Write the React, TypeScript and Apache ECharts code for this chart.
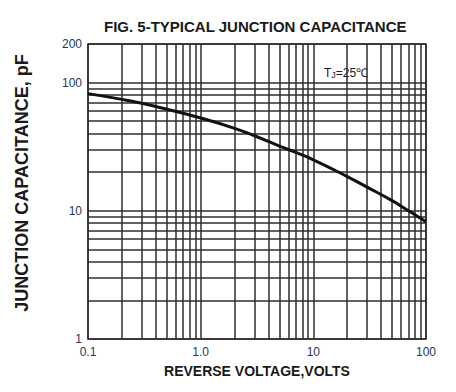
import React, { useEffect, useRef } from "react";
import * as echarts from "echarts";

// Curve: reverse voltage (V) vs junction capacitance (pF)
const voltage = [0.1, 0.2, 0.3, 0.5, 1, 2, 3, 5, 7, 10, 20, 30, 50, 70, 100];
const capacitance = [82, 74, 69, 62, 53, 44, 38.5, 32, 28.5, 25, 18.5, 15.3, 12, 10, 8.2];

// Minor grid values (log paper)
const xGrid = [0.2, 0.3, 0.4, 0.5, 0.6, 0.7, 0.8, 0.9, 2, 3, 4, 5, 6, 7, 8, 9, 20, 30, 40, 50, 60, 70, 80, 90];
const yGrid = [2, 3, 4, 5, 6, 7, 8, 9, 20, 30, 40, 50, 60, 70, 80, 90];

// Tick labels
const xTickValues = [0.1, 1, 10, 100];
const xTickLabels = ["0.1", "1.0", "10", "100"];
const yTickValues = [1, 10, 100, 200];
const yTickLabels = ["1", "10", "100", "200"];

const FONT = "Liberation Sans, Arial, Helvetica, sans-serif";
const GRID_COLOR = "#2e2e2e";
const LABEL_COLOR = "#26365e";

function lookup(values: number[], labels: string[], v: number): string {
  for (let i = 0; i < values.length; i++) {
    if (Math.abs(Math.log10(v) - Math.log10(values[i])) < 1e-6) return labels[i];
  }
  return "";
}

export default function App() {
  const ref = useRef<HTMLDivElement>(null);
  useEffect(() => {
    document.body.style.margin = "0";
    const chart = echarts.init(ref.current!, null, { renderer: "svg" });
    chart.setOption({
      animation: false,
      backgroundColor: "#ffffff",
      title: {
        text: "FIG. 5-TYPICAL JUNCTION CAPACITANCE",
        left: 104,
        top: 19,
        padding: 0,
        textStyle: { fontFamily: FONT, fontWeight: "bold", fontSize: 15, color: "#1a1a1a" },
      },
      grid: {
        left: 88,
        right: 30,
        top: 44,
        bottom: 53,
        show: true,
        borderColor: GRID_COLOR,
        borderWidth: 1.5,
        backgroundColor: "transparent",
      },
      xAxis: {
        type: "log",
        logBase: 10,
        min: 0.1,
        max: 100,
        name: "REVERSE VOLTAGE,VOLTS",
        nameLocation: "middle",
        nameGap: 25,
        nameTextStyle: { fontFamily: FONT, fontWeight: "bold", fontSize: 14, color: "#1a1a1a" },
        axisLine: { show: false },
        axisTick: { show: false },
        axisLabel: {
          fontFamily: FONT,
          fontSize: 12,
          color: LABEL_COLOR,
          margin: 7,
          formatter: (v: number) => lookup(xTickValues, xTickLabels, v),
        },
        splitLine: { show: true, lineStyle: { color: GRID_COLOR, width: 1.5 } },
      },
      yAxis: {
        type: "log",
        logBase: 10,
        min: 1,
        max: 200,
        axisLine: { show: false },
        axisTick: { show: false },
        axisLabel: {
          fontFamily: FONT,
          fontSize: 12,
          color: LABEL_COLOR,
          margin: 6,
          showMaxLabel: true,
          formatter: (v: number) => lookup(yTickValues, yTickLabels, v),
        },
        splitLine: { show: true, lineStyle: { color: GRID_COLOR, width: 1.5 } },
      },
      series: [
        {
          type: "line",
          data: voltage.map((v, i) => [v, capacitance[i]]),
          smooth: 0.5,
          showSymbol: false,
          lineStyle: { color: "#111111", width: 3 },
          z: 5,
          markLine: {
            silent: true,
            symbol: ["none", "none"],
            label: { show: false },
            lineStyle: { color: GRID_COLOR, width: 1.5, type: "solid" },
            emphasis: { disabled: true },
            data: [
              ...xGrid.map((v) => ({ xAxis: v })),
              ...yGrid.map((v) => ({ yAxis: v })),
            ],
          },
        },
      ],
      graphic: [
        {
          type: "group",
          z: 100,
          children: [
            {
              type: "rect",
              shape: { x: 307, y: 60, width: 76, height: 23 },
              style: { fill: "#ffffff" },
            },
            {
              type: "text",
              x: 346,
              y: 73,
              style: {
                text: "{a|T}{b|J}{a|=25℃}",
                align: "center",
                verticalAlign: "middle",
                rich: {
                  a: { fontFamily: FONT, fontSize: 12, fill: "#1a1a2e" },
                  b: { fontFamily: FONT, fontSize: 9, fill: "#1a1a2e", padding: [3, 0, 0, 0] },
                },
              },
            },
          ],
        },
        {
          type: "text",
          x: 22,
          y: 183,
          rotation: Math.PI / 2,
          style: {
            text: "JUNCTION CAPACITANCE, pF",
            fontFamily: FONT,
            fontWeight: "bold",
            fontSize: 18,
            fill: "#1a1a1a",
            align: "center",
            verticalAlign: "middle",
          },
        },
      ],
    });
    return () => chart.dispose();
  }, []);
  return <div ref={ref} style={{ width: 456, height: 392 }} />;
}
